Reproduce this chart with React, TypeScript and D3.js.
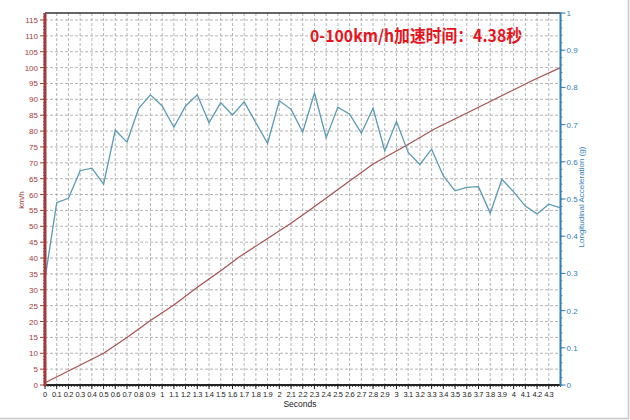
import React from "react";
import * as d3 from "d3";

const speedTime = [0, 0.2, 0.5, 0.7, 0.9, 1.1, 1.3, 1.5, 1.66, 1.89, 2.09, 2.26, 2.5, 2.8, 3.08, 3.32, 3.8, 4.17, 4.4];
const speedKmh = [0.7, 4.4, 10.0, 15.0, 20.3, 25.2, 30.8, 36.0, 40.4, 45.9, 50.7, 55.1, 61.6, 69.6, 75.4, 80.6, 89.3, 96.1, 100];

const accelTime = [0, 0.1, 0.2, 0.3, 0.4, 0.5, 0.6, 0.7, 0.8, 0.9, 1.0, 1.1, 1.2, 1.3, 1.4, 1.5, 1.6, 1.7, 1.8, 1.9, 2.0, 2.1, 2.2, 2.3, 2.4, 2.5, 2.6, 2.7, 2.8, 2.9, 3.0, 3.1, 3.2, 3.3, 3.4, 3.5, 3.6, 3.7, 3.8, 3.9, 4.0, 4.1, 4.2, 4.3, 4.4];
const accelG = [0.285, 0.49, 0.502, 0.576, 0.583, 0.54, 0.685, 0.653, 0.744, 0.78, 0.75, 0.693, 0.75, 0.78, 0.705, 0.759, 0.726, 0.761, 0.705, 0.65, 0.764, 0.741, 0.68, 0.785, 0.665, 0.747, 0.728, 0.677, 0.744, 0.629, 0.708, 0.625, 0.593, 0.634, 0.562, 0.522, 0.531, 0.533, 0.462, 0.553, 0.519, 0.481, 0.46, 0.486, 0.476];

const xTicks = [0, 0.1, 0.2, 0.3, 0.4, 0.5, 0.6, 0.7, 0.8, 0.9, 1, 1.1, 1.2, 1.3, 1.4, 1.5, 1.6, 1.7, 1.8, 1.9, 2, 2.1, 2.2, 2.3, 2.4, 2.5, 2.6, 2.7, 2.8, 2.9, 3, 3.1, 3.2, 3.3, 3.4, 3.5, 3.6, 3.7, 3.8, 3.9, 4, 4.1, 4.2, 4.3];
const leftTicks = [0, 5, 10, 15, 20, 25, 30, 35, 40, 45, 50, 55, 60, 65, 70, 75, 80, 85, 90, 95, 100, 105, 110, 115];
const rightTicks = [0, 0.1, 0.2, 0.3, 0.4, 0.5, 0.6, 0.7, 0.8, 0.9, 1];

const titleText = "0-100km/h加速时间：4.38秒";

export default function App() {
  const W = 630, H = 420;
  const L = 45, R = 560.5, T = 13, B = 385;
  const x = d3.scaleLinear().domain([0, 4.4]).range([L, R]);
  const yL = d3.scaleLinear().domain([0, 117.2]).range([B, T]);
  const yR = d3.scaleLinear().domain([0, 1]).range([B, T]);

  const speedLine = d3.line<number>().x((d, i) => x(speedTime[i])).y((d) => yL(d));
  const accelLine = d3.line<number>().x((d, i) => x(accelTime[i])).y((d) => yR(d));

  const gridV = d3.range(1, 44).map((i) => i * 0.1);
  const gridH = d3.range(1, 24).map((i) => i * 5);
  const minorX = d3.range(0, 177).map((i) => i * 0.025);
  const minorL = d3.range(0, 118);
  const minorR = d3.range(0, 51).map((i) => i * 0.02);

  const leftCol = "#a23a3a";
  const rightCol = "#2f7fb8";
  const font = "Arial, 'Liberation Sans', sans-serif";

  return (
    <svg width={W} height={H} style={{ position: "absolute", left: 0, top: 0, background: "#fff" }} fontFamily={font}>
      <rect x={0} y={0} width={W} height={H} fill="#fff" />
      {/* grid */}
      {gridV.map((t, i) => (
        <line key={"gv" + i} x1={x(t)} x2={x(t)} y1={T} y2={B} stroke="#b4b4b4" strokeWidth={1} strokeDasharray="3,2" />
      ))}
      {gridH.map((v, i) => (
        <line key={"gh" + i} x1={L} x2={R} y1={yL(v)} y2={yL(v)} stroke="#b4b4b4" strokeWidth={1} strokeDasharray="3,2" />
      ))}
      {/* top border */}
      <line x1={L} x2={R} y1={T} y2={T} stroke="#333" strokeWidth={1.5} />

      {/* series */}
      <path d={speedLine(speedKmh) || ""} fill="none" stroke="#a85050" strokeWidth={1.2} />
      <path d={accelLine(accelG) || ""} fill="none" stroke="#5b9ab3" strokeWidth={1.3} />

      {/* bottom axis */}
      {minorX.map((t, i) => (
        <line key={"mx" + i} x1={x(t)} x2={x(t)} y1={B} y2={B + 2} stroke="#222" strokeWidth={0.8} />
      ))}
      {xTicks.map((t, i) => (
        <g key={"xt" + i}>
          <line x1={x(t)} x2={x(t)} y1={B} y2={B + 4} stroke="#222" strokeWidth={1} />
          <text x={x(t)} y={B + 12} fontSize={7.5} letterSpacing={-0.4} textAnchor="middle" fill="#222">{String(t)}</text>
        </g>
      ))}
      <line x1={L} x2={R} y1={B} y2={B} stroke="#222" strokeWidth={2} />
      <text x={300} y={407} fontSize={8.5} textAnchor="middle" fill="#222">Seconds</text>

      {/* left axis */}
      {minorL.map((v, i) => (
        <line key={"ml" + i} x1={L - 2} x2={L} y1={yL(v)} y2={yL(v)} stroke={leftCol} strokeWidth={0.8} />
      ))}
      {leftTicks.map((v, i) => (
        <g key={"lt" + i}>
          <line x1={L - 5} x2={L} y1={yL(v)} y2={yL(v)} stroke={leftCol} strokeWidth={1} />
          <text x={L - 7} y={yL(v) + 3} fontSize={8} textAnchor="end" fill={leftCol}>{String(v)}</text>
        </g>
      ))}
      <line x1={L} x2={L} y1={T} y2={B + 1} stroke={leftCol} strokeWidth={3} />
      <text transform={`translate(24,200) rotate(-90)`} fontSize={8} textAnchor="middle" fill={leftCol}>km/h</text>

      {/* right axis */}
      {minorR.map((v, i) => (
        <line key={"mr" + i} x1={R} x2={R + 2} y1={yR(v)} y2={yR(v)} stroke={rightCol} strokeWidth={0.8} />
      ))}
      {rightTicks.map((v, i) => (
        <g key={"rt" + i}>
          <line x1={R} x2={R + 5} y1={yR(v)} y2={yR(v)} stroke={rightCol} strokeWidth={1} />
          <text x={R + 6} y={yR(v) + 3} fontSize={8} textAnchor="start" fill={rightCol}>{String(v)}</text>
        </g>
      ))}
      <line x1={R} x2={R} y1={T} y2={B + 1} stroke={rightCol} strokeWidth={2} />
      <text transform={`translate(584,197) rotate(-90)`} fontSize={8} textAnchor="middle" fill={rightCol}>Longitudinal Acceleration (g)</text>

      {/* title */}
      <text x={310} y={42} fontSize={16.5} fontWeight="bold" fill="#e8141c" textLength={212} lengthAdjust="spacingAndGlyphs" fontFamily="'Noto Sans CJK SC', 'Noto Sans', sans-serif">{titleText}</text>

      {/* image frame */}
      <line x1={0} x2={629} y1={418.5} y2={418.5} stroke="#c8c8c8" strokeWidth={1.5} />
      <line x1={628.5} x2={628.5} y1={0} y2={419} stroke="#c8c8c8" strokeWidth={1.5} />
    </svg>
  );
}
